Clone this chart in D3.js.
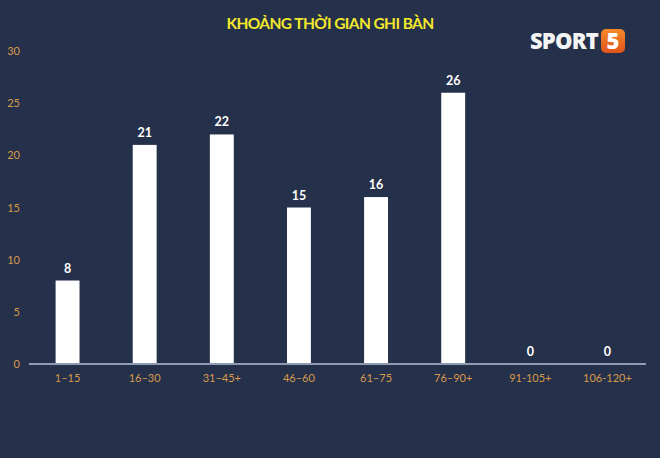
<!DOCTYPE html>
<html><head><meta charset="utf-8">
<script src="https://cdn.jsdelivr.net/npm/d3@7"></script>
<style>
html,body{margin:0;padding:0;background:#25304a;}
svg{display:block;}
</style></head>
<body>
<svg id="c" width="660" height="458"></svg>
<script>
const categories = ["1–15","16–30","31–45+","46–60","61–75","76–90+","91-105+","106-120+"];
const values = [8,21,22,15,16,26,0,0];
const yTicks = [0,5,10,15,20,25,30];
const title = "KHOẢNG THỜI GIAN GHI BÀN";

const svg = d3.select("#c");
const W = 660, H = 458;
svg.append("rect").attr("width",W).attr("height",H).attr("fill","#25304a");

const x0 = 29, x1 = 646, yBase = 364, yTop = 51;
const x = d3.scaleBand().domain(categories).range([x0,x1]).paddingInner(0.69).paddingOuter(0.345);
const y = d3.scaleLinear().domain([0,30]).range([yBase,yTop]);
const font = "Lato, 'Open Sans', sans-serif";

svg.append("text").attr("x",330).attr("y",29).attr("text-anchor","middle")
  .attr("font-family",font).attr("font-weight","bold").attr("font-size",15.5)
  .attr("letter-spacing","-0.6").attr("fill","#f2e82c").text(title);

// logo
const logo = svg.append("g");
logo.append("text").attr("x",598).attr("y",48.5).attr("text-anchor","end")
  .attr("font-family","'Open Sans', Roboto, sans-serif").attr("font-weight","800").attr("font-size",22)
  .attr("letter-spacing","-0.8").attr("fill","#f4f4f4").text("SPORT");
const lg = svg.append("defs").append("linearGradient").attr("id","og").attr("x1",0).attr("y1",0).attr("x2",0).attr("y2",1);
lg.append("stop").attr("offset","0").attr("stop-color","#f58a2a");
lg.append("stop").attr("offset","1").attr("stop-color","#e0541c");
logo.append("rect").attr("x",601).attr("y",29).attr("width",24).attr("height",24).attr("rx",5).attr("fill","url(#og)");
logo.append("text").attr("x",613).attr("y",49).attr("text-anchor","middle")
  .attr("font-family","'Open Sans', Roboto, sans-serif").attr("font-weight","800").attr("font-size",22)
  .attr("fill","#ffffff").text("5");

// y axis
const yAxis = d3.axisLeft(y).tickValues(yTicks).tickSize(0).tickPadding(0);
const gy = svg.append("g").attr("transform","translate(20,0)").call(yAxis);
gy.select(".domain").remove();
gy.selectAll("text").attr("font-family",font).attr("font-size",11).attr("fill","#d99a4a");

// bars
svg.append("g").selectAll("rect").data(values).join("rect")
  .attr("x",(d,i)=>x(categories[i])).attr("width",x.bandwidth())
  .attr("y",d=>y(d)).attr("height",d=>yBase-y(d)).attr("fill","#ffffff");

// x axis
const xAxis = d3.axisBottom(x).tickSize(0).tickPadding(10);
const gx = svg.append("g").attr("transform",`translate(0,${yBase})`).call(xAxis);
gx.select(".domain").attr("stroke","#8f9bb3").attr("stroke-width",2).attr("d",`M${x0},0H${x1}`);
gx.selectAll("text").attr("font-family",font).attr("font-size",11).attr("fill","#d99a4a");

// value labels
svg.append("g").selectAll("text").data(values).join("text")
  .attr("x",(d,i)=>x(categories[i])+x.bandwidth()/2).attr("y",d=>y(d)-8)
  .attr("text-anchor","middle").attr("font-family",font).attr("font-weight","bold").attr("font-size",12.5)
  .attr("fill","#ffffff").text(d=>d);
</script>
</body></html>
